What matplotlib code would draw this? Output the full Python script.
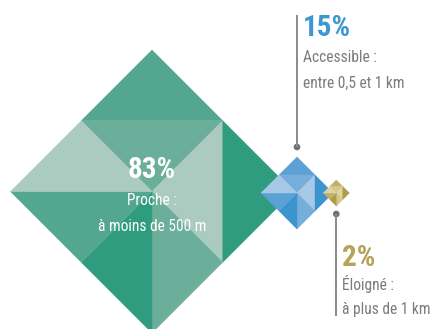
import matplotlib
matplotlib.use("Agg")
import matplotlib.pyplot as plt
from matplotlib.patches import Polygon, Circle

# Shares of the population by distance
shares = [83, 15, 2]
headings = ["Proche :", "Accessible :", "Éloigné :"]
details = ["à moins de 500 m", "entre 0,5 et 1 km", "à plus de 1 km"]

# Diamond geometry in pixel units (centre x, centre y, half-diagonal)
centres = [(152, 191.5), (297, 193), (336.3, 193)]
half_sizes = [141.5, 36, 13]

# Facet shades per diamond: outer, inner, light, dark
palettes = [
    ["#53a690", "#6baf9b", "#abcbc0", "#2f9b7f"],
    ["#5ba1d3", "#75aedb", "#a7c9e7", "#3b94cc"],
    ["#c2b06a", "#d3c68e", "#ddd3a3", "#b09c48"],
]
accent = ["#ffffff", "#3d98d0", "#b5a356"]
grey = "#7b7b7b"
line_grey = "#8a8a8a"

fonts = ["Liberation Sans Narrow", "DejaVu Sans Condensed", "Roboto Condensed", "Roboto", "DejaVu Sans"]
big = 21
small = 11.2

fig = plt.figure(figsize=(4.32, 3.29), dpi=100)
ax = fig.add_axes([0, 0, 1, 1])
ax.set_xlim(0, 432)
ax.set_ylim(329, 0)
ax.axis("off")


def diamond(cx, cy, h, cols):
    top, right, bottom, left = (cx, cy - h), (cx + h, cy), (cx, cy + h), (cx - h, cy)
    tl, tr = (cx - h / 2, cy - h / 2), (cx + h / 2, cy - h / 2)
    br, bl = (cx + h / 2, cy + h / 2), (cx - h / 2, cy + h / 2)
    c = (cx, cy)
    outer, inner, light, dark = cols
    facets = [
        ((top, tl, tr), outer),
        ((tl, tr, c), inner),
        ((tr, c, br), light),
        ((tr, right, br), dark),
        ((c, br, bottom), inner),
        ((bl, c, bottom), dark),
        ((left, c, bl), outer),
        ((left, tl, c), light),
    ]
    for pts, col in facets:
        ax.add_patch(Polygon(pts, closed=True, facecolor=col, edgecolor=col,
                             linewidth=0.3))


for (cx, cy), h, cols in zip(centres, half_sizes, palettes):
    diamond(cx, cy, h, cols)

# Central label on the large diamond
cx, cy = centres[0]
ax.text(cx, 178, f"{shares[0]}%", color=accent[0], fontsize=big, fontweight="bold",
        ha="center", va="baseline", family=fonts)
ax.text(cx, 205, headings[0], color="white", fontsize=small, ha="center",
        va="baseline", family=fonts)
ax.text(cx, 231, details[0], color="white", fontsize=small, ha="center",
        va="baseline", family=fonts)

# Leader line and label for the medium diamond (above)
bx = centres[1][0]
ax.plot([bx, bx], [15, 147], color=line_grey, lw=1.4, solid_capstyle="butt")
ax.add_patch(Circle((bx, 147), 2.6, color="#6f6f6f"))
ax.text(303, 36, f"{shares[1]}%", color=accent[1], fontsize=big, fontweight="bold",
        ha="left", va="baseline", family=fonts)
ax.text(303, 62, headings[1], color=grey, fontsize=small, ha="left",
        va="baseline", family=fonts)
ax.text(303, 88, details[1], color=grey, fontsize=small, ha="left",
        va="baseline", family=fonts)

# Leader line and label for the small diamond (below)
gx = centres[2][0]
ax.plot([gx, gx], [214, 316], color=line_grey, lw=1.4, solid_capstyle="butt")
ax.add_patch(Circle((gx, 214), 2.6, color="#6f6f6f"))
ax.text(342, 266.5, f"{shares[2]}%", color=accent[2], fontsize=big, fontweight="bold",
        ha="left", va="baseline", family=fonts)
ax.text(342, 290, headings[2], color=grey, fontsize=small, ha="left",
        va="baseline", family=fonts)
ax.text(342, 314, details[2], color=grey, fontsize=small, ha="left",
        va="baseline", family=fonts)

fig.savefig("out.png", dpi=100, facecolor="white")
